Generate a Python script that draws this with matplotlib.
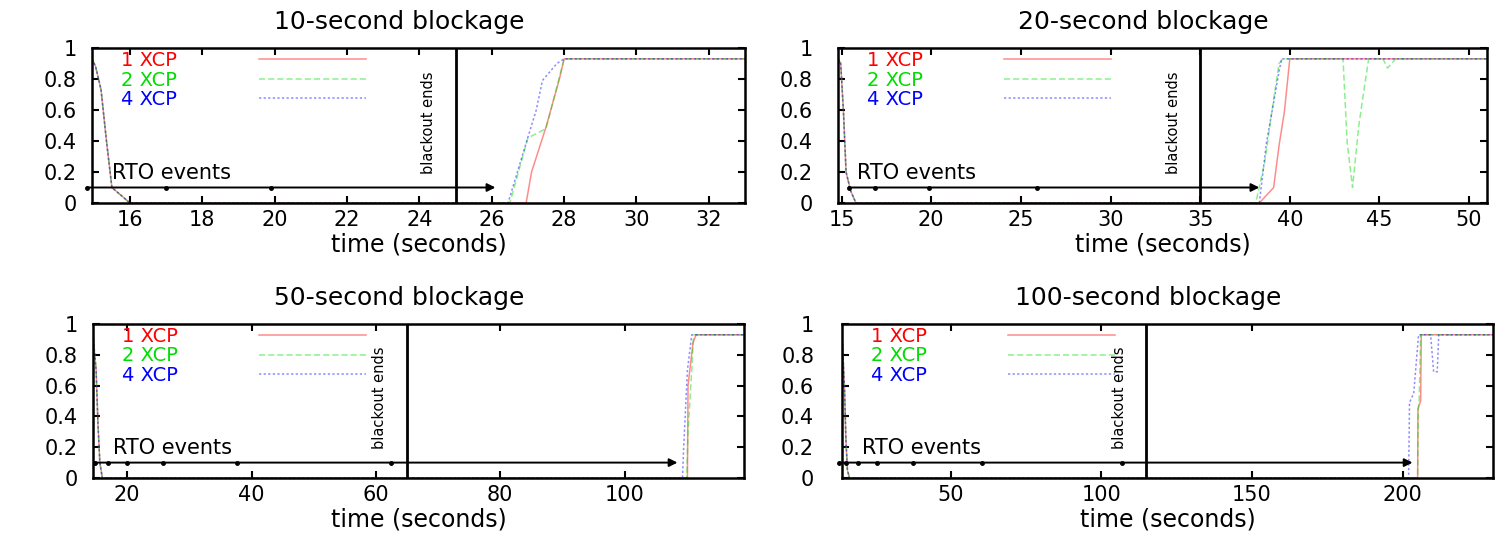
import numpy as np
import matplotlib.pyplot as plt

plt.rcParams['font.family'] = ['DejaVu Sans']

# panel setup
titles = ['10-second blockage', '20-second blockage',
          '50-second blockage', '100-second blockage']
blackout_end = [25, 35, 65, 115]
x_limits = [(14.95, 33.0), (14.8, 51.0), (14.5, 119.2), (14.0, 230.0)]
x_ticks = [list(range(16, 33, 2)), list(range(15, 51, 5)),
           [20, 40, 60, 80, 100], [50, 100, 150, 200]]
y_ticks = [0, 0.2, 0.4, 0.6, 0.8, 1]

# RTO events (time of each retransmission timeout) and arrow end
rto_times = [[14.8, 17.0, 19.9],
             [15.4, 16.85, 19.9, 25.9],
             [14.8, 16.9, 20.0, 25.8, 37.7, 62.4],
             [13.0, 15.2, 19.2, 25.5, 37.4, 60.6, 107.0]]
rto_arrow_end = [26.1, 38.3, 108.5, 203.3]

# initial drop after blockage start (same for all flows)
drop_t = [[14.95, 15.05, 15.2, 15.35, 15.5, 16.0],
          [14.8, 14.95, 15.1, 15.25, 15.5, 15.8],
          [14.5, 15.0, 15.3, 15.6, 16.0],
          [14.0, 14.8, 15.3, 15.8, 16.5]]
drop_v = [[0.93, 0.88, 0.73, 0.4, 0.1, 0.0],
          [0.93, 0.9, 0.6, 0.2, 0.08, 0.0],
          [0.93, 0.7, 0.35, 0.1, 0.0],
          [0.93, 0.6, 0.25, 0.05, 0.0]]

# recovery, 1 XCP
xcp1_t = [[26.95, 27.1, 27.5, 27.87, 28.0, 33.0],
          [38.3, 39.1, 39.4, 39.7, 39.85, 40.0, 51.0],
          [110.1, 110.2, 111.0, 111.5, 119.2],
          [205.0, 205.1, 206.0, 206.2, 230.0]]
xcp1_v = [[0.0, 0.2, 0.49, 0.8, 0.93, 0.93],
          [0.0, 0.1, 0.37, 0.59, 0.76, 0.93, 0.93],
          [0.0, 0.6, 0.88, 0.93, 0.93],
          [0.0, 0.45, 0.5, 0.93, 0.93]]

# recovery, 2 XCP
xcp2_t = [[26.5, 27.0, 27.5, 28.0, 33.0],
          [38.1, 38.6, 39.0, 39.4, 39.6, 42.97, 43.2, 43.5, 43.85, 44.1,
           44.4, 45.2, 45.45, 45.9, 51.0],
          [110.0, 110.2, 110.8, 111.1, 119.2],
          [205.0, 205.2, 205.5, 206.0, 230.0]]
xcp2_v = [[0.0, 0.42, 0.48, 0.93, 0.93],
          [0.0, 0.26, 0.59, 0.9, 0.93, 0.93, 0.39, 0.1, 0.5, 0.7,
           0.93, 0.93, 0.87, 0.93, 0.93],
          [0.0, 0.3, 0.7, 0.93, 0.93],
          [0.0, 0.45, 0.5, 0.93, 0.93]]

# recovery, 4 XCP
xcp4_t = [[26.45, 26.98, 27.23, 27.4, 27.8, 28.0, 33.0],
          [38.3, 38.7, 39.1, 39.4, 39.55, 51.0],
          [109.3, 109.5, 110.1, 110.8, 119.2],
          [202.0, 202.3, 203.7, 205.3, 209.3, 210.3, 211.5, 212.0, 230.0]]
xcp4_v = [[0.0, 0.41, 0.6, 0.79, 0.9, 0.93, 0.93],
          [0.0, 0.39, 0.65, 0.85, 0.93, 0.93],
          [0.0, 0.2, 0.7, 0.93, 0.93],
          [0.0, 0.49, 0.55, 0.93, 0.93, 0.69, 0.69, 0.93, 0.93]]

labels = ['1 XCP', '2 XCP', '4 XCP']
colors = ['#ff0000', '#00dd00', '#0000ff']
styles = ['-', (0, (4, 2)), (0, (1.5, 1.5))]

W, H = 1497, 536
# axes boxes in pixels: left, right, top, bottom
boxes = [(92, 745, 48, 203), (838, 1487, 48, 203),
         (93, 744, 324, 478), (842, 1493, 324, 478)]
ylab_pad = [11, 18, 11, 20]

fig = plt.figure(figsize=(W / 100, H / 100), dpi=100)

for i in range(4):
    l, r, t, b = boxes[i]
    ax = fig.add_axes([l / W, 1 - b / H, (r - l) / W, (b - t) / H])

    series_t = [xcp1_t[i], xcp2_t[i], xcp4_t[i]]
    series_v = [xcp1_v[i], xcp2_v[i], xcp4_v[i]]
    for k in range(3):
        ax.plot(drop_t[i] + series_t[k], drop_v[i] + series_v[k],
                color=colors[k], linestyle=styles[k], lw=1.1, alpha=0.45,
                label=labels[k])

    ax.set_xlim(*x_limits[i])
    ax.set_ylim(0, 1)

    # blackout end marker
    ax.axvline(blackout_end[i], color='black', lw=2)
    ax.annotate('blackout ends', xy=(blackout_end[i], 0.52),
                xycoords=ax.get_xaxis_transform(),
                xytext=(-27, 0), textcoords='offset pixels',
                rotation=90, ha='center', va='center', fontsize=10.5)

    # RTO events arrow
    rt = rto_times[i]
    ax.annotate('', xy=(rto_arrow_end[i], 0.1), xytext=(rt[0], 0.1),
                arrowprops=dict(arrowstyle='-|>', color='black', lw=1.4,
                                mutation_scale=12, shrinkA=0, shrinkB=0),
                annotation_clip=False)
    ax.plot(rt, [0.1] * len(rt), 'k.', ms=5, clip_on=False)
    ax.text(0.03, 0.195, 'RTO events', transform=ax.transAxes,
            fontsize=15, va='center', ha='left')

    ax.set_xticks(x_ticks[i])
    ax.set_yticks(y_ticks)
    ax.set_yticklabels(['%g' % v for v in y_ticks])
    ax.tick_params(direction='in', top=True, right=True, length=5,
                   width=1.5, labelsize=15)
    ax.tick_params(axis='x', pad=5)
    ax.tick_params(axis='y', pad=ylab_pad[i])
    for s in ax.spines.values():
        s.set_linewidth(1.8)

    ax.set_title(titles[i], fontsize=18, pad=14, x=0.47)
    ax.set_xlabel('time (seconds)', fontsize=17, labelpad=2)

    ax.legend(loc='upper left', bbox_to_anchor=(0.04, 1.0),
              frameon=False, markerfirst=False, handlelength=5.5,
              handletextpad=4.2, fontsize=14, labelspacing=0.03,
              borderaxespad=0, borderpad=0.15, labelcolor='linecolor')

fig.savefig('out.png', dpi=100)
